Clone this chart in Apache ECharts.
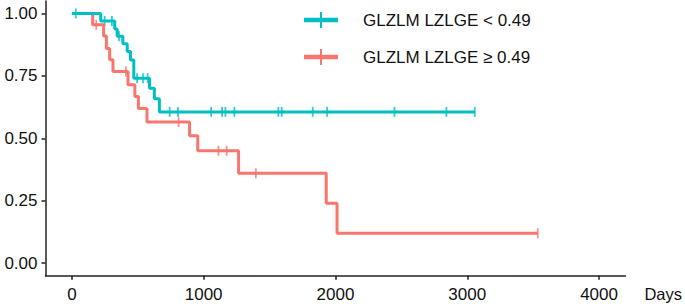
<!DOCTYPE html>
<html>
<head>
<meta charset="utf-8">
<script src="https://cdn.jsdelivr.net/npm/echarts@6/dist/echarts.min.js"></script>
<style>
  html, body { margin: 0; padding: 0; background: #fff; }
  #chart { width: 685px; height: 304px; }
</style>
</head>
<body>
<div id="chart"></div>
<script>
// Kaplan-Meier steps (days, survival after the step)
var lowName = 'GLZLM LZLGE < 0.49'
var highName = 'GLZLM LZLGE \u2265 0.49'

var lowTimes = [0, 219, 325, 344, 387, 420, 445, 470, 589, 626, 664, 3057]
var lowSurv = [1, 0.970, 0.938, 0.909, 0.879, 0.848, 0.814, 0.741, 0.701, 0.659, 0.606, 0.606]
var lowCensor = [30, 249, 304, 358, 495, 540, 575, 742, 805, 1057, 1140, 1165, 1233, 1567, 1592, 1828, 1937, 2448, 2842, 3057]

var highTimes = [0, 158, 241, 262, 287, 312, 426, 478, 505, 570, 893, 955, 1265, 1930, 2012, 3535]
var highSurv = [1, 0.955, 0.91, 0.86, 0.815, 0.768, 0.715, 0.668, 0.62, 0.565, 0.51, 0.45, 0.36, 0.24, 0.12, 0.12]
var highCensor = [185, 410, 810, 1112, 1174, 1396, 3535]

var xTicks = [0, 1000, 2000, 3000, 4000]
var yTicks = [0, 0.25, 0.5, 0.75, 1]

var teal = '#00BFC4'
var red = '#F8766D'
var font = 'Liberation Sans, Arial, Helvetica, sans-serif'

function steps (times, surv) {
  return times.map(function (t, i) { return [t, surv[i]] })
}
// survival level at a censoring time = last step at or before it
function censorPoints (days, times, surv) {
  return days.map(function (d) {
    var s = surv[0]
    for (var i = 0; i < times.length; i++) {
      if (times[i] <= d) s = surv[i]
    }
    return [d, s]
  })
}

var legendIcon = 'path://M0,5.8H34V10.2H0Z M16,0H18V16H16Z'

var chart = echarts.init(document.getElementById('chart'), null, { renderer: 'svg' })
chart.setOption({
  animation: false,
  textStyle: { fontFamily: font },
  grid: { left: 45.5, right: 57, top: 1, bottom: 28.3 },
  legend: {
    orient: 'vertical',
    left: 304,
    top: 11.5,
    padding: 0,
    itemGap: 20,
    itemWidth: 34,
    itemHeight: 16,
    selectedMode: false,
    textStyle: { fontSize: 17, lineHeight: 17, color: '#111', fontFamily: font, padding: [0, 0, 0, 20] },
    data: [
      { name: lowName, icon: legendIcon, itemStyle: { color: teal } },
      { name: highName, icon: legendIcon, itemStyle: { color: red } }
    ]
  },
  xAxis: {
    type: 'value',
    min: -200,
    max: 4200,
    name: 'Days',
    nameLocation: 'end',
    nameGap: 19,
    nameTextStyle: { fontSize: 16.5, color: '#111', fontFamily: font, verticalAlign: 'top', padding: [10, 0, 0, 0] },
    splitLine: { show: false },
    axisLine: { onZero: false, lineStyle: { color: '#222', width: 1.5 } },
    axisTick: { show: true, length: 4, customValues: xTicks, lineStyle: { color: '#222', width: 1.5 } },
    axisLabel: {
      customValues: xTicks,
      margin: 10,
      fontSize: 17,
      color: '#111',
      fontFamily: font,
      formatter: function (v) { return String(v) }
    }
  },
  yAxis: {
    type: 'value',
    min: -0.05,
    max: 1.05,
    splitLine: { show: false },
    axisLine: { show: true, onZero: false, lineStyle: { color: '#222', width: 1.5 } },
    axisTick: { show: true, length: 4, customValues: yTicks, lineStyle: { color: '#222', width: 1.5 } },
    axisLabel: {
      customValues: yTicks,
      margin: 8,
      fontSize: 17,
      color: '#111',
      fontFamily: font,
      formatter: function (v) { return v.toFixed(2) }
    }
  },
  series: [
    {
      name: highName,
      type: 'line',
      step: 'end',
      showSymbol: false,
      symbol: 'none',
      lineStyle: { color: red, width: 3 },
      itemStyle: { color: red },
      data: steps(highTimes, highSurv)
    },
    {
      type: 'scatter',
      symbol: 'rect',
      symbolSize: [1.8, 10],
      itemStyle: { color: red },
      data: censorPoints(highCensor, highTimes, highSurv)
    },
    {
      name: lowName,
      type: 'line',
      step: 'end',
      showSymbol: false,
      symbol: 'none',
      lineStyle: { color: teal, width: 3 },
      itemStyle: { color: teal },
      data: steps(lowTimes, lowSurv)
    },
    {
      type: 'scatter',
      symbol: 'rect',
      symbolSize: [1.8, 10],
      itemStyle: { color: teal },
      data: censorPoints(lowCensor, lowTimes, lowSurv)
    }
  ]
})
</script>
</body>
</html>
